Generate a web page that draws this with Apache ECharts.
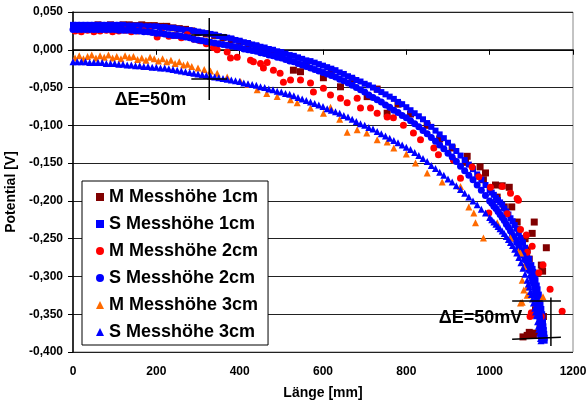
<!DOCTYPE html>
<html>
<head>
<meta charset="utf-8">
<script src="https://cdn.jsdelivr.net/npm/echarts@6/dist/echarts.min.js"></script>
<style>
html, body { margin: 0; padding: 0; background: #fff; }
#chart { width: 588px; height: 402px; }
</style>
</head>
<body>
<div id="chart"></div>
<script>
// [Länge mm, Potential V]
const m1 = [[5, 0.031], [15, 0.032], [30, 0.031], [45, 0.032], [60, 0.033], [75, 0.032], [90, 0.033], [105, 0.032], [120, 0.033], [135, 0.033], [150, 0.032], [165, 0.033], [180, 0.032], [195, 0.032], [210, 0.031], [225, 0.031], [240, 0.029], [255, 0.028], [270, 0.027], [285, 0.025], [300, 0.023], [320, 0.021], [340, 0.019], [360, 0.016], [380, 0.013], [400, 0.010], [420, 0.007], [440, 0.004], [460, 0.000], [480, -0.003], [500, -0.007], [529, -0.027], [546, -0.029], [560, -0.017], [601, -0.037], [620, -0.028], [642, -0.049], [670, -0.040], [706, -0.062], [730, -0.052], [754, -0.084], [780, -0.072], [810, -0.085], [850, -0.100], [880, -0.118], [910, -0.130], [946, -0.141], [942, -0.149], [977, -0.155], [990, -0.163], [985, -0.172], [1014, -0.179], [1018, -0.195], [1030, -0.180], [1047, -0.182], [1035, -0.208], [1053, -0.208], [1066, -0.228], [1107, -0.228], [1102, -0.243], [1085, -0.250], [1136, -0.262], [1090, -0.265], [1095, -0.277], [1124, -0.285], [1127, -0.293], [1110, -0.344], [1114, -0.344], [1129, -0.353], [1121, -0.366], [1110, -0.375], [1100, -0.377], [1090, -0.378], [1080, -0.380], [1095, -0.374], [1105, -0.378]]

const s1 = [[0, 0.033], [10, 0.033], [20, 0.033], [30, 0.033], [40, 0.033], [50, 0.033], [60, 0.033], [70, 0.033], [80, 0.033], [90, 0.033], [100, 0.033], [110, 0.033], [120, 0.033], [130, 0.032], [140, 0.032], [150, 0.032], [160, 0.032], [170, 0.031], [180, 0.031], [190, 0.031], [200, 0.031], [210, 0.030], [220, 0.030], [230, 0.029], [240, 0.029], [250, 0.028], [260, 0.027], [270, 0.026], [280, 0.026], [290, 0.025], [300, 0.024], [310, 0.023], [320, 0.022], [330, 0.021], [340, 0.020], [350, 0.018], [360, 0.017], [370, 0.016], [380, 0.015], [390, 0.013], [400, 0.012], [410, 0.010], [420, 0.009], [430, 0.007], [440, 0.006], [450, 0.004], [460, 0.003], [470, 0.001], [480, 0.000], [490, -0.002], [500, -0.003], [510, -0.005], [520, -0.007], [530, -0.008], [540, -0.010], [550, -0.012], [560, -0.014], [570, -0.015], [580, -0.017], [590, -0.019], [600, -0.021], [610, -0.023], [620, -0.025], [630, -0.027], [640, -0.030], [650, -0.032], [660, -0.035], [670, -0.037], [680, -0.040], [690, -0.042], [700, -0.045], [710, -0.047], [720, -0.050], [730, -0.053], [740, -0.056], [750, -0.059], [760, -0.062], [770, -0.065], [780, -0.069], [790, -0.072], [800, -0.076], [810, -0.080], [820, -0.084], [830, -0.088], [840, -0.092], [850, -0.097], [860, -0.102], [870, -0.107], [880, -0.112], [890, -0.117], [900, -0.123], [910, -0.128], [920, -0.134], [930, -0.140], [940, -0.146], [950, -0.152], [960, -0.158], [970, -0.165], [980, -0.172], [990, -0.179], [1000, -0.186], [1005, -0.189], [1010, -0.192], [1015, -0.196], [1020, -0.199], [1025, -0.202], [1030, -0.205], [1035, -0.210], [1040, -0.214], [1045, -0.218], [1050, -0.223], [1055, -0.227], [1060, -0.232], [1065, -0.237], [1070, -0.243], [1075, -0.249], [1080, -0.255], [1085, -0.262], [1090, -0.269], [1095, -0.277], [1100, -0.285], [1103, -0.290], [1105, -0.294], [1108, -0.300], [1110, -0.305], [1113, -0.312], [1115, -0.317], [1118, -0.324], [1120, -0.330], [1122, -0.337], [1124, -0.343], [1126, -0.350], [1127, -0.355], [1128, -0.360], [1129, -0.366], [1130, -0.371], [1131, -0.376], [1132, -0.381], [1132, -0.385]]

const m2 = [[5, 0.025], [20, 0.024], [35, 0.026], [50, 0.024], [65, 0.025], [80, 0.026], [95, 0.024], [110, 0.025], [125, 0.026], [140, 0.024], [155, 0.025], [170, 0.025], [185, 0.024], [202, 0.017], [215, 0.022], [230, 0.018], [245, 0.019], [260, 0.016], [274, 0.020], [290, 0.014], [305, 0.012], [320, 0.008], [337, 0.003], [346, 0.000], [370, -0.003], [378, -0.011], [394, -0.010], [426, -0.014], [433, -0.016], [450, -0.018], [457, -0.024], [466, -0.017], [481, -0.027], [497, -0.031], [505, -0.043], [522, -0.040], [546, -0.040], [570, -0.044], [577, -0.056], [601, -0.051], [618, -0.060], [642, -0.064], [658, -0.070], [682, -0.064], [690, -0.077], [714, -0.077], [730, -0.084], [754, -0.089], [769, -0.090], [793, -0.100], [817, -0.110], [834, -0.119], [866, -0.130], [877, -0.139], [913, -0.146], [930, -0.170], [958, -0.155], [974, -0.168], [1002, -0.182], [1030, -0.181], [1050, -0.190], [1066, -0.197], [998, -0.216], [1069, -0.199], [1042, -0.217], [1074, -0.238], [1088, -0.245], [1102, -0.260], [1090, -0.268], [1128, -0.285], [1118, -0.295], [1145, -0.317], [1174, -0.346], [1100, -0.348], [1097, -0.353], [1124, -0.353], [1110, -0.351]]

const s2 = [[0, 0.027], [10, 0.027], [20, 0.027], [30, 0.027], [40, 0.027], [50, 0.027], [60, 0.027], [70, 0.027], [80, 0.027], [90, 0.027], [100, 0.027], [110, 0.026], [120, 0.026], [130, 0.026], [140, 0.026], [150, 0.025], [160, 0.025], [170, 0.024], [180, 0.024], [190, 0.023], [200, 0.022], [210, 0.022], [220, 0.021], [230, 0.020], [240, 0.019], [250, 0.019], [260, 0.018], [270, 0.017], [280, 0.016], [290, 0.014], [300, 0.013], [310, 0.012], [320, 0.011], [330, 0.010], [340, 0.009], [350, 0.008], [360, 0.007], [370, 0.006], [380, 0.005], [390, 0.004], [400, 0.003], [410, 0.001], [420, 0.000], [430, -0.001], [440, -0.002], [450, -0.004], [460, -0.005], [470, -0.007], [480, -0.008], [490, -0.010], [500, -0.011], [510, -0.013], [520, -0.015], [530, -0.016], [540, -0.018], [550, -0.020], [560, -0.022], [570, -0.024], [580, -0.026], [590, -0.028], [600, -0.030], [610, -0.032], [620, -0.034], [630, -0.036], [640, -0.039], [650, -0.041], [660, -0.044], [670, -0.047], [680, -0.050], [690, -0.053], [700, -0.056], [710, -0.060], [720, -0.063], [730, -0.066], [740, -0.069], [750, -0.073], [760, -0.076], [770, -0.080], [780, -0.083], [790, -0.087], [800, -0.090], [810, -0.094], [820, -0.098], [830, -0.102], [840, -0.107], [850, -0.111], [860, -0.116], [870, -0.121], [880, -0.126], [890, -0.131], [900, -0.137], [910, -0.142], [920, -0.148], [930, -0.154], [940, -0.160], [950, -0.166], [960, -0.172], [970, -0.179], [980, -0.186], [990, -0.193], [1000, -0.200], [1005, -0.203], [1010, -0.207], [1015, -0.210], [1020, -0.214], [1025, -0.218], [1030, -0.222], [1035, -0.226], [1040, -0.231], [1045, -0.235], [1050, -0.240], [1055, -0.245], [1060, -0.250], [1065, -0.255], [1070, -0.261], [1075, -0.266], [1080, -0.272], [1085, -0.278], [1090, -0.285], [1095, -0.292], [1100, -0.300], [1103, -0.305], [1105, -0.309], [1108, -0.315], [1110, -0.320], [1112, -0.325], [1114, -0.331], [1116, -0.338], [1118, -0.345], [1119, -0.350], [1120, -0.355], [1121, -0.360], [1122, -0.365], [1123, -0.370], [1124, -0.374], [1125, -0.378], [1125, -0.382]]

const m3 = [[5, -0.011], [15, -0.008], [25, -0.012], [35, -0.009], [45, -0.007], [55, -0.011], [65, -0.008], [75, -0.010], [85, -0.007], [95, -0.011], [105, -0.009], [115, -0.012], [125, -0.008], [135, -0.010], [145, -0.009], [155, -0.013], [165, -0.011], [175, -0.014], [185, -0.010], [195, -0.012], [205, -0.015], [215, -0.012], [225, -0.016], [235, -0.014], [245, -0.018], [255, -0.016], [265, -0.020], [275, -0.019], [285, -0.022], [300, -0.024], [315, -0.026], [330, -0.028], [346, -0.031], [370, -0.036], [402, -0.042], [420, -0.046], [442, -0.053], [465, -0.058], [490, -0.062], [522, -0.066], [538, -0.070], [570, -0.077], [601, -0.084], [618, -0.076], [640, -0.092], [658, -0.109], [682, -0.106], [705, -0.110], [730, -0.119], [754, -0.122], [770, -0.130], [800, -0.138], [822, -0.150], [850, -0.163], [886, -0.175], [930, -0.181], [950, -0.208], [962, -0.216], [966, -0.229], [985, -0.249], [1018, -0.229], [1050, -0.249], [1069, -0.267], [1074, -0.269], [1082, -0.287], [1078, -0.305], [1082, -0.318], [1090, -0.314], [1090, -0.325], [1074, -0.335], [1078, -0.334], [1128, -0.327]]

const s3 = [[0, -0.016], [10, -0.016], [20, -0.016], [30, -0.016], [40, -0.017], [50, -0.017], [60, -0.017], [70, -0.017], [80, -0.018], [90, -0.018], [100, -0.018], [110, -0.019], [120, -0.019], [130, -0.020], [140, -0.020], [150, -0.021], [160, -0.021], [170, -0.022], [180, -0.022], [190, -0.023], [200, -0.023], [210, -0.024], [220, -0.024], [230, -0.025], [240, -0.026], [250, -0.027], [260, -0.028], [270, -0.029], [280, -0.030], [290, -0.031], [300, -0.032], [310, -0.033], [320, -0.034], [330, -0.035], [340, -0.036], [350, -0.037], [360, -0.038], [370, -0.039], [380, -0.040], [390, -0.041], [400, -0.042], [410, -0.044], [420, -0.045], [430, -0.046], [440, -0.047], [450, -0.049], [460, -0.050], [470, -0.052], [480, -0.053], [490, -0.055], [500, -0.056], [510, -0.058], [520, -0.059], [530, -0.061], [540, -0.063], [550, -0.065], [560, -0.067], [570, -0.069], [580, -0.071], [590, -0.073], [600, -0.075], [610, -0.078], [620, -0.080], [630, -0.082], [640, -0.084], [650, -0.087], [660, -0.089], [670, -0.092], [680, -0.095], [690, -0.098], [700, -0.100], [710, -0.103], [720, -0.105], [730, -0.108], [740, -0.111], [750, -0.114], [760, -0.117], [770, -0.120], [780, -0.123], [790, -0.126], [800, -0.129], [810, -0.132], [820, -0.136], [830, -0.140], [840, -0.144], [850, -0.148], [860, -0.153], [870, -0.157], [880, -0.162], [890, -0.166], [900, -0.171], [910, -0.175], [920, -0.180], [930, -0.185], [940, -0.190], [950, -0.195], [960, -0.200], [970, -0.205], [980, -0.211], [990, -0.216], [1000, -0.222], [1005, -0.225], [1010, -0.228], [1015, -0.231], [1020, -0.234], [1025, -0.237], [1030, -0.240], [1035, -0.243], [1040, -0.247], [1045, -0.251], [1050, -0.255], [1055, -0.259], [1060, -0.264], [1065, -0.269], [1070, -0.275], [1075, -0.282], [1080, -0.289], [1085, -0.297], [1090, -0.305], [1093, -0.310], [1095, -0.314], [1098, -0.320], [1100, -0.324], [1103, -0.330], [1105, -0.335], [1108, -0.342], [1110, -0.347], [1112, -0.352], [1115, -0.360], [1117, -0.366], [1118, -0.370], [1120, -0.375], [1121, -0.378], [1122, -0.382], [1123, -0.385]]

const seriesNames = ['M Messhöhe 1cm', 'S Messhöhe 1cm', 'M Messhöhe 2cm', 'S Messhöhe 2cm', 'M Messhöhe 3cm', 'S Messhöhe 3cm']

// ΔE-Markierungen (Daten-Koordinaten)
const markLines = [
  [[327, 0.042], [327, -0.0665]],
  [[284, 0.0196], [370, 0.0196]],
  [[284, -0.0387], [370, -0.0387]],
  [[1147, -0.328], [1147, -0.392]],
  [[1054, -0.3325], [1171, -0.3325]],
  [[1054, -0.3830], [1171, -0.3805]]
]
const markTexts = [
  { text: 'ΔE=50m', at: [100, -0.0665] },
  { text: 'ΔE=50mV', at: [878, -0.3555] }
]

const font = 'Arial, "Liberation Sans", sans-serif'

function fmtY (v) {
  if (Math.abs(v) < 1e-9) v = 0
  return v.toFixed(3).replace('.', ',')
}

function scatter (name, data, symbol, size, color) {
  return {
    name: name,
    type: 'scatter',
    data: data,
    symbol: symbol,
    symbolSize: size,
    itemStyle: { color: color, opacity: 1 },
    emphasis: { disabled: true }
  }
}

const chart = echarts.init(document.getElementById('chart'))
chart.setOption({
  animation: false,
  backgroundColor: '#fff',
  grid: {
    left: 73, right: 15, top: 12, bottom: 50,
    outerBoundsMode: 'none',
    show: true, borderColor: '#888', borderWidth: 1
  },
  legend: {
    data: seriesNames,
    orient: 'vertical',
    left: 82,
    top: 181,
    padding: [6, 10, 3, 14],
    itemWidth: 8,
    itemHeight: 8,
    itemGap: 7,
    selectedMode: false,
    backgroundColor: '#fff',
    borderColor: '#000',
    borderWidth: 1,
    textStyle: { fontFamily: font, fontSize: 18, fontWeight: 'bold', color: '#000', lineHeight: 20 }
  },
  xAxis: {
    type: 'value',
    min: 0,
    max: 1200,
    interval: 200,
    name: 'Länge [mm]',
    nameLocation: 'middle',
    nameGap: 34,
    nameTextStyle: { fontFamily: font, fontSize: 14, fontWeight: 'bold', color: '#000' },
    axisLine: { lineStyle: { color: '#000', width: 1.5 } },
    axisTick: { lineStyle: { color: '#000' }, length: 5 },
    axisLabel: { fontFamily: font, fontSize: 12, fontWeight: 'bold', color: '#000', margin: 14, formatter: v => String(v) },
    splitLine: { show: false }
  },
  yAxis: {
    type: 'value',
    min: -0.4,
    max: 0.05,
    interval: 0.05,
    name: 'Potential [V]',
    nameLocation: 'middle',
    nameGap: 47,
    nameTextStyle: { fontFamily: font, fontSize: 14, fontWeight: 'bold', color: '#000', padding: [0, 20, 0, 0] },
    axisLine: { lineStyle: { color: '#000', width: 1.5 } },
    axisTick: { lineStyle: { color: '#000' }, length: 5 },
    axisLabel: { fontFamily: font, fontSize: 12, fontWeight: 'bold', color: '#000', margin: 10, formatter: fmtY },
    splitLine: { lineStyle: { color: '#222', width: 1 } }
  },
  series: [
    scatter(seriesNames[0], m1, 'rect', 7, '#800000'),
    scatter(seriesNames[1], s1, 'rect', 6, '#0000FF'),
    scatter(seriesNames[2], m2, 'circle', 7, '#FF0000'),
    scatter(seriesNames[3], s2, 'circle', 7, '#0000FF'),
    scatter(seriesNames[4], m3, 'triangle', 7, '#FF6A00'),
    scatter(seriesNames[5], s3, 'triangle', 7, '#0000FF')
  ]
})

// Markierungen in Pixel umrechnen
const toPx = p => chart.convertToPixel({ gridIndex: 0 }, p)
const elements = []
markLines.forEach(function (seg) {
  const a = toPx(seg[0])
  const b = toPx(seg[1])
  elements.push({
    type: 'line',
    z: 10,
    shape: { x1: a[0], y1: a[1], x2: b[0], y2: b[1] },
    style: { stroke: '#000', lineWidth: 1.5 }
  })
})
markTexts.forEach(function (t) {
  const p = toPx(t.at)
  elements.push({
    type: 'text',
    z: 10,
    x: p[0],
    y: p[1],
    style: {
      text: t.text,
      fill: '#000',
      font: 'bold 18px ' + font,
      textVerticalAlign: 'middle'
    }
  })
})
chart.setOption({ graphic: elements })
</script>
</body>
</html>
